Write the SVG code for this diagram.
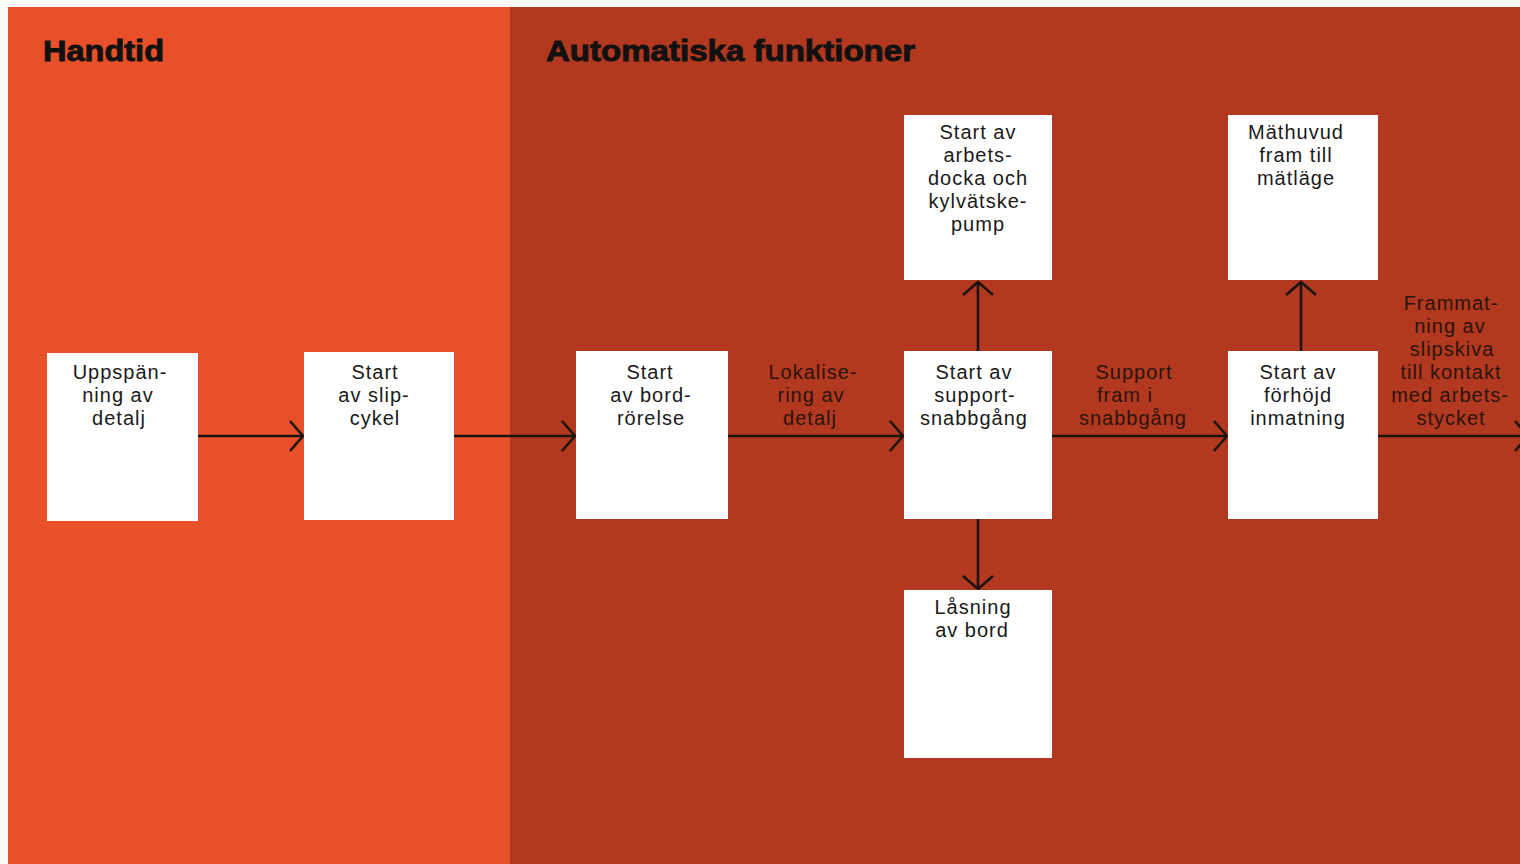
<svg xmlns="http://www.w3.org/2000/svg" width="1520" height="864" viewBox="0 0 1520 864">
  <defs>
    <marker id="chev" markerUnits="userSpaceOnUse" viewBox="-16 -18 18 36" markerWidth="18" markerHeight="36" refX="0" refY="0" orient="auto" overflow="visible">
      <path d="M-13,-15 L0,0 L-13,15" fill="none" stroke="#1c1410" stroke-width="2.6" stroke-linejoin="miter"/>
    </marker>
    <style>
      .box { fill: #ffffff; }
      .t { font-family: "Liberation Sans", Arial, sans-serif; font-size: 20px; letter-spacing: 1px; fill: #1a1a1a; text-anchor: middle; }
      .lbl { font-family: "Liberation Sans", Arial, sans-serif; font-size: 20px; letter-spacing: 1px; fill: #2a140c; text-anchor: middle; }
      .title { font-family: "Liberation Sans", Arial, sans-serif; font-size: 29px; font-weight: bold; fill: #111111; stroke: #111111; stroke-width: 0.9; }
      .conn { fill: none; stroke: #1c1410; stroke-width: 2.6; marker-end: url(#chev); }
    </style>
  </defs>

  <g id="background">
    <rect x="0" y="0" width="1520" height="864" fill="#fbfaf6"/>
    <rect x="8" y="7" width="503" height="857" fill="#e8502a"/>
    <rect x="510" y="7" width="1010" height="857" fill="#b2381f"/>
  </g>

  <g id="titles">
    <text class="title" x="43" y="61" textLength="121" lengthAdjust="spacingAndGlyphs">Handtid</text>
    <text class="title" x="546" y="61" textLength="369" lengthAdjust="spacingAndGlyphs">Automatiska funktioner</text>
  </g>

  <g id="connectors">
    <line class="conn" x1="198" y1="436" x2="303" y2="436"/>
    <line class="conn" x1="454" y1="436" x2="575" y2="436"/>
    <line class="conn" x1="728" y1="436" x2="903" y2="436"/>
    <line class="conn" x1="1052" y1="436" x2="1227" y2="436"/>
    <line class="conn" x1="1378" y1="436" x2="1528" y2="436"/>
    <line class="conn" x1="978" y1="351" x2="978" y2="282"/>
    <line class="conn" x1="978" y1="519" x2="978" y2="589"/>
    <line class="conn" x1="1301" y1="351" x2="1301" y2="282"/>
  </g>

  <g id="edge-labels">
    <text class="lbl" x="813" y="379">Lokalise-</text>
    <text class="lbl" x="811" y="402">ring av</text>
    <text class="lbl" x="810" y="425">detalj</text>
    <text class="lbl" x="1134" y="379">Support</text>
    <text class="lbl" x="1125" y="402">fram i</text>
    <text class="lbl" x="1133" y="425">snabbgång</text>
    <text class="lbl" x="1451" y="310">Frammat-</text>
    <text class="lbl" x="1450" y="333">ning av</text>
    <text class="lbl" x="1452" y="356">slipskiva</text>
    <text class="lbl" x="1451" y="379">till kontakt</text>
    <text class="lbl" x="1450" y="402">med arbets-</text>
    <text class="lbl" x="1451" y="425">stycket</text>
  </g>

  <g id="n1">
    <rect class="box" x="47" y="353" width="151" height="168"/>
    <text class="t" x="120" y="379">Uppspän-</text>
    <text class="t" x="118" y="402">ning av</text>
    <text class="t" x="119" y="425">detalj</text>
  </g>

  <g id="n2">
    <rect class="box" x="304" y="352" width="150" height="168"/>
    <text class="t" x="375" y="379">Start</text>
    <text class="t" x="374" y="402">av slip-</text>
    <text class="t" x="375" y="425">cykel</text>
  </g>

  <g id="n3">
    <rect class="box" x="576" y="351" width="152" height="168"/>
    <text class="t" x="650" y="379">Start</text>
    <text class="t" x="651" y="402">av bord-</text>
    <text class="t" x="651" y="425">rörelse</text>
  </g>

  <g id="n4">
    <rect class="box" x="904" y="351" width="148" height="168"/>
    <text class="t" x="974" y="379">Start av</text>
    <text class="t" x="975" y="402">support-</text>
    <text class="t" x="974" y="425">snabbgång</text>
  </g>

  <g id="n5">
    <rect class="box" x="904" y="115" width="148" height="165"/>
    <text class="t" x="978" y="139">Start av</text>
    <text class="t" x="978" y="162">arbets-</text>
    <text class="t" x="978" y="185">docka och</text>
    <text class="t" x="978" y="208">kylvätske-</text>
    <text class="t" x="978" y="231">pump</text>
  </g>

  <g id="n6">
    <rect class="box" x="904" y="590" width="148" height="168"/>
    <text class="t" x="973" y="614">Låsning</text>
    <text class="t" x="972" y="637">av bord</text>
  </g>

  <g id="n7">
    <rect class="box" x="1228" y="351" width="150" height="168"/>
    <text class="t" x="1298" y="379">Start av</text>
    <text class="t" x="1298" y="402">förhöjd</text>
    <text class="t" x="1298" y="425">inmatning</text>
  </g>

  <g id="n8">
    <rect class="box" x="1228" y="115" width="150" height="165"/>
    <text class="t" x="1296" y="139">Mäthuvud</text>
    <text class="t" x="1296" y="162">fram till</text>
    <text class="t" x="1296" y="185">mätläge</text>
  </g>
</svg>
